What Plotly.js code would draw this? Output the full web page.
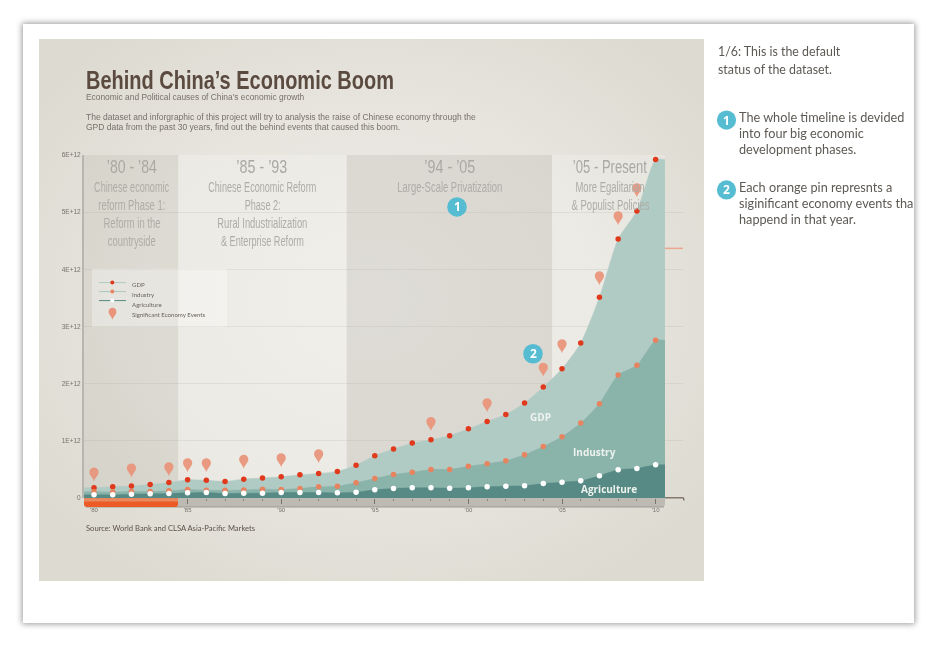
<!DOCTYPE html>
<html>
<head>
<meta charset="utf-8">
<script src="https://cdn.plot.ly/plotly-3.0.1.min.js"></script>
<style>
html,body{margin:0;padding:0;background:#fff;width:940px;height:650px;overflow:hidden}
#card{position:absolute;left:23px;top:24px;width:891px;height:599px;background:#fff;box-shadow:0 0 6px 1px rgba(0,0,0,.4)}
#panel{position:absolute;left:39px;top:39px;width:665px;height:542px;background:radial-gradient(ellipse 62% 62% at 50% 48%,#eceae4 0%,#e7e5de 55%,#dddad1 100%)}
#chart{position:absolute;left:0;top:0;width:940px;height:650px;filter:blur(0.3px)}
</style>
</head>
<body>
<div id="card"></div>
<div id="panel"></div>
<div id="chart"></div>
<script>
const years = [1980,1981,1982,1983,1984,1985,1986,1987,1988,1989,1990,1991,1992,1993,1994,1995,1996,1997,1998,1999,2000,2001,2002,2003,2004,2005,2006,2007,2008,2009,2010];
const gdp = [0.18,0.196,0.21,0.235,0.27,0.32,0.31,0.29,0.33,0.35,0.37,0.405,0.43,0.465,0.575,0.74,0.855,0.96,1.02,1.09,1.21,1.34,1.46,1.66,1.94,2.26,2.71,3.51,4.53,5.02,5.92];
const industry = [0.11,0.105,0.115,0.115,0.125,0.15,0.135,0.135,0.14,0.155,0.15,0.165,0.195,0.205,0.265,0.34,0.41,0.45,0.50,0.50,0.555,0.60,0.65,0.755,0.90,1.07,1.31,1.65,2.15,2.32,2.76];
const agriculture = [0.055,0.055,0.066,0.073,0.079,0.09,0.096,0.079,0.084,0.084,0.096,0.096,0.096,0.09,0.10,0.143,0.166,0.178,0.178,0.171,0.178,0.196,0.206,0.213,0.253,0.276,0.30,0.388,0.493,0.516,0.58];
const pinYears = [1980,1982,1984,1985,1986,1988,1990,1992,1998,2001,2004,2005,2007,2008,2009];
const pinValues = [0.29,0.36,0.38,0.45,0.45,0.51,0.54,0.61,1.17,1.50,2.12,2.53,3.72,4.77,5.26];
const phaseEdges = [1979.47,1984.5,1993.5,2004.47,2010.5];
const phaseFills = ['rgba(140,138,125,0.12)','rgba(255,255,255,0.22)','rgba(140,138,125,0.14)','rgba(255,255,255,0.2)'];
const tickVals = [0,1e12,2e12,3e12,4e12,5e12,6e12];
const tickText = ['0','1E+12','2E+12','3E+12','4E+12','5E+12','6E+12'];
const xTickVals = [1980,1985,1990,1995,2000,2005,2010];
const xTickText = ["'80","'85","'90","'95","'00","'05","'10"];

const L=84,R=683,T=155,B=498.5;
const px=x=>(x-L)/(R-L), py=y=>(B-y)/(B-T);
const E=v=>v.map(a=>a*1e12);
const SANS='"Liberation Sans",Arial,sans-serif';
const LATO='Lato,"Open Sans",sans-serif';
const OPEN='"Open Sans",sans-serif';
const TEAL='#56bcd1', PIN='#e8937a';

function area(v,color){return {x:[phaseEdges[0],...years,phaseEdges[4]],y:E([v[0],...v,v[v.length-1]]),mode:'lines',fill:'tozeroy',fillcolor:color,line:{color:color,width:0.5,shape:'spline',smoothing:0.6},hoverinfo:'skip'};}
function dots(v,color,name){return {x:years,y:E(v),mode:'markers',name:name,marker:{color:color,size:5.5},cliponaxis:false};}
const data=[
  area(gdp,'#b0cbc4'),area(industry,'#8ab3aa'),area(agriculture,'#578a84'),
  dots(gdp,'#e0391b','GDP'),dots(industry,'#e8835f','Industry'),dots(agriculture,'#ffffff','Agriculture'),
  {x:pinYears,y:E(pinValues),mode:'markers',name:'Significant Economy Events',marker:{color:'rgba(0,0,0,0)',size:6},hovertemplate:'%{x}<extra>Event</extra>'}
];

function pinPath(s){const f=n=>(n*s).toFixed(2);return `M0,0 C${f(-1)},${f(4)} ${f(-4.6)},${f(6)} ${f(-4.6)},${f(9.5)} C${f(-4.6)},${f(15.5)} ${f(4.6)},${f(15.5)} ${f(4.6)},${f(9.5)} C${f(4.6)},${f(6)} ${f(1)},${f(4)} 0,0 Z`;}
const shapes=[];
phaseFills.forEach((c,i)=>shapes.push({type:'rect',xref:'x',yref:'y',x0:phaseEdges[i],x1:phaseEdges[i+1],y0:0,y1:6e12,fillcolor:c,line:{width:0},layer:'below'}));
const P=(x,y)=>`${px(x).toFixed(5)},${py(y).toFixed(5)}`;
function bar(x0,x1,y0,y1,r,fill,layer,rr){return {type:'path',xref:'paper',yref:'paper',path:`M${P(x0,y0)} L${P(x1,y0)} L${P(x1,y1-(rr?r:0))} Q${P(x1,y1)} ${P(x1-(rr?r:0),y1)} L${P(x0+r,y1)} Q${P(x0,y1)} ${P(x0,y1-r)} Z`,fillcolor:fill,line:{width:0},layer:layer};}
shapes.push(bar(84,665,498.5,507.5,3,'#bdbab3','below',true));
shapes.push({type:'line',xref:'paper',yref:'paper',x0:px(86),x1:px(664),y0:py(507.5),y1:py(507.5),line:{color:'#9d9a93',width:1},layer:'below'});
shapes.push(bar(84,178,498.8,507.5,3,'#ec5a26','above',true));
shapes.push(bar(84,178,498.8,502,0,'#e78a5f','above',false));
shapes.push({type:'line',xref:'paper',yref:'paper',x0:px(665),x1:px(683.5),y0:py(498.3),y1:py(498.3),line:{color:'#6f5f53',width:1.2},layer:'above'});
shapes.push({type:'line',xref:'paper',yref:'paper',x0:px(683.5),x1:px(684),y0:py(498.3),y1:py(501),line:{color:'#6f5f53',width:1.2},layer:'above'});
shapes.push({type:'line',xref:'paper',yref:'paper',x0:px(665),x1:px(683),y0:py(248.5),y1:py(248.5),line:{color:'#e9a78f',width:1.5},layer:'above'});
pinYears.forEach((yr,i)=>shapes.push({type:'path',xref:'x',yref:'y',xsizemode:'pixel',ysizemode:'pixel',xanchor:yr,yanchor:pinValues[i]*1e12,path:pinPath(1),fillcolor:PIN,opacity:0.93,line:{width:0},layer:'above'}));
function circle(cx,cy,r,c){return {type:'circle',xref:'paper',yref:'paper',x0:px(cx-r),x1:px(cx+r),y0:py(cy+r),y1:py(cy-r),fillcolor:c,line:{width:0},layer:'above'};}
[[457,207,9.8],[533,354,9.8],[726.5,120,9.6],[726.5,190,9.6]].forEach(b=>shapes.push(circle(b[0],b[1],b[2],TEAL)));
shapes.push({type:'rect',xref:'paper',yref:'paper',x0:px(92),x1:px(227),y0:py(327),y1:py(269),fillcolor:'rgba(255,255,255,0.3)',line:{width:0},layer:'above'});
[[282.8,'#b0cbc4','#e0391b'],[291.8,'#a9c6bf','#e8835f'],[300.8,'#578a84','#ffffff']].forEach(l=>{
  shapes.push({type:'line',xref:'paper',yref:'paper',x0:px(99),x1:px(126),y0:py(l[0]),y1:py(l[0]),line:{color:l[1],width:1},layer:'above'});
  shapes.push(circle(112.3,l[0],2,l[2]));
});
shapes.push({type:'path',xref:'paper',yref:'paper',xsizemode:'pixel',ysizemode:'pixel',xanchor:px(112.5),yanchor:py(320),path:pinPath(0.85),fillcolor:PIN,line:{width:0},layer:'above'});

function T_(text,x,y,size,color,font,anchor,extra){return Object.assign({xref:'paper',yref:'paper',x:px(x),y:py(y),text:text,showarrow:false,xanchor:anchor||'left',yanchor:'middle',borderpad:0,font:{size:size,color:color,family:font}},extra||{});}
const GR='#a9a8a2', GR2='#adaca6';
// narrow text: [label, width in picture]
const narrowWidths = {
  'Behind China’s Economic Boom':308,
  '’80 - ’84':50,'’85 - ’93':51,'’94 - ’05':51,'’05 - Present':74,
  'Chinese economic':75,'reform Phase 1:':67,'Reform in the':57,'countryside':48,
  'Chinese Economic Reform':108,'Phase 2:':36,'Rural Industrialization':90,'& Enterprise Reform':83,
  'Large-Scale Privatization':105,'More Egalitarian':69,'& Populist Policies':78
};
const annotations=[
  Object.assign(T_('Behind China’s Economic Boom',85,79.5,26,'#5b4a40',SANS,'left',{align:'left'}),{}),
  T_('Economic and Political causes of China’s economic growth',85,96.5,8.4,'#77716a',SANS),
  T_('The dataset and inforgraphic of this project will try to analysis the raise of Chinese economy through the',85,116.5,8.5,'#77716a',SANS),
  T_('GPD data from the past 30 years, find out the behind events that caused this boom.',85,127,8.5,'#77716a',SANS),
  T_('’80 - ’84',131.5,167,19,GR,SANS,'center'),
  T_('Chinese economic',131.5,187,14,GR2,SANS,'center'),
  T_('reform Phase 1:',131.5,205.5,14,GR2,SANS,'center'),
  T_('Reform in the',131.5,223.5,14,GR2,SANS,'center'),
  T_('countryside',131.5,241.5,14,GR2,SANS,'center'),
  T_('’85 - ’93',262,167,19,GR,SANS,'center'),
  T_('Chinese Economic Reform',262,187,14,GR2,SANS,'center'),
  T_('Phase 2:',262,205.5,14,GR2,SANS,'center'),
  T_('Rural Industrialization',262,223.5,14,GR2,SANS,'center'),
  T_('& Enterprise Reform',262,241.5,14,GR2,SANS,'center'),
  T_('’94 - ’05',450,167,19,GR,SANS,'center'),
  T_('Large-Scale Privatization',450,187,14,GR2,SANS,'center'),
  T_('’05 - Present',610,167,19,GR,SANS,'center'),
  T_('More Egalitarian',610,187,14,GR2,SANS,'center'),
  T_('& Populist Policies',610,205.5,14,GR2,SANS,'center'),
  T_('<b>1</b>',457,207,12,'#ffffff',OPEN,'center'),
  T_('<b>2</b>',533,354,12,'#ffffff',OPEN,'center'),
  T_('<b>1</b>',726.5,120,12,'#ffffff',OPEN,'center'),
  T_('<b>2</b>',726.5,190,12,'#ffffff',OPEN,'center'),
  T_('<b>GDP</b>',540.5,417.5,10,'#eef2ee',OPEN,'center'),
  T_('<b>Industry</b>',594,452,10,'#eef2ee',OPEN,'center'),
  T_('<b>Agriculture</b>',608.5,489,10,'#eef2ee',OPEN,'center'),
  T_('GDP',131,284.5,6.1,'#6a645c',LATO),
  T_('Industry',131,295,6.1,'#6a645c',LATO),
  T_('Agriculture',131,305,6.1,'#6a645c',LATO),
  T_('Significant Economy Events',131,315,6.1,'#6a645c',LATO),
  T_('Source: World Bank and CLSA Asia-Pacific Markets',85,529,7.6,'#5b524a',LATO),
  T_('1/6: This is the default',717,51,12.4,'#5d5954',LATO),
  T_('status of the dataset.',717,69.5,12.4,'#5d5954',LATO),
  T_('The whole timeline is devided',738,117,12.7,'#5d5954',LATO),
  T_('into four big economic',738,133,12.7,'#5d5954',LATO),
  T_('development phases.',738,149,12.7,'#5d5954',LATO),
  T_('Each orange pin represnts a',738,187,12.7,'#5d5954',LATO),
  T_('siginificant economy events tha',738,203,12.7,'#5d5954',LATO),
  T_('happend in that year.',738,219,12.7,'#5d5954',LATO)
];
annotations[0].font.weight=700;

const layout={
  width:940,height:650,autosize:false,showlegend:false,
  paper_bgcolor:'rgba(0,0,0,0)',plot_bgcolor:'rgba(0,0,0,0)',
  margin:{l:L,r:940-R,t:T,b:650-B,pad:0},
  hovermode:'closest',
  xaxis:{range:[1980+(L-94)/18.72,1980+(R-94)/18.72],tickmode:'array',tickvals:xTickVals,ticktext:xTickText,showgrid:false,zeroline:false,showline:false,
    ticks:'outside',ticklen:5,tickwidth:1,tickcolor:'#77746c',tickfont:{size:6,color:'#77736c',family:SANS},ticklabelstandoff:1,
    minor:{tickmode:'array',tickvals:years,ticks:'outside',ticklen:2,tickwidth:1,tickcolor:'#88857d',showgrid:false}},
  yaxis:{range:[0,6e12],tickmode:'array',tickvals:tickVals,ticktext:tickText,showgrid:true,gridcolor:'rgba(150,145,125,0.15)',gridwidth:1,zeroline:false,
    showline:true,linecolor:'#b7b5ae',linewidth:2,ticks:'',tickfont:{size:6.5,color:'#77736c',family:SANS}},
  shapes:shapes,annotations:annotations
};
function condense(){
  document.querySelectorAll('.annotation-text').forEach(t=>{
    const w=narrowWidths[t.textContent];
    if(w){t.setAttribute('textLength',w);t.setAttribute('lengthAdjust','spacingAndGlyphs');}
  });
}
Plotly.newPlot('chart',data,layout,{displayModeBar:false}).then(condense);
</script>
</body>
</html>
